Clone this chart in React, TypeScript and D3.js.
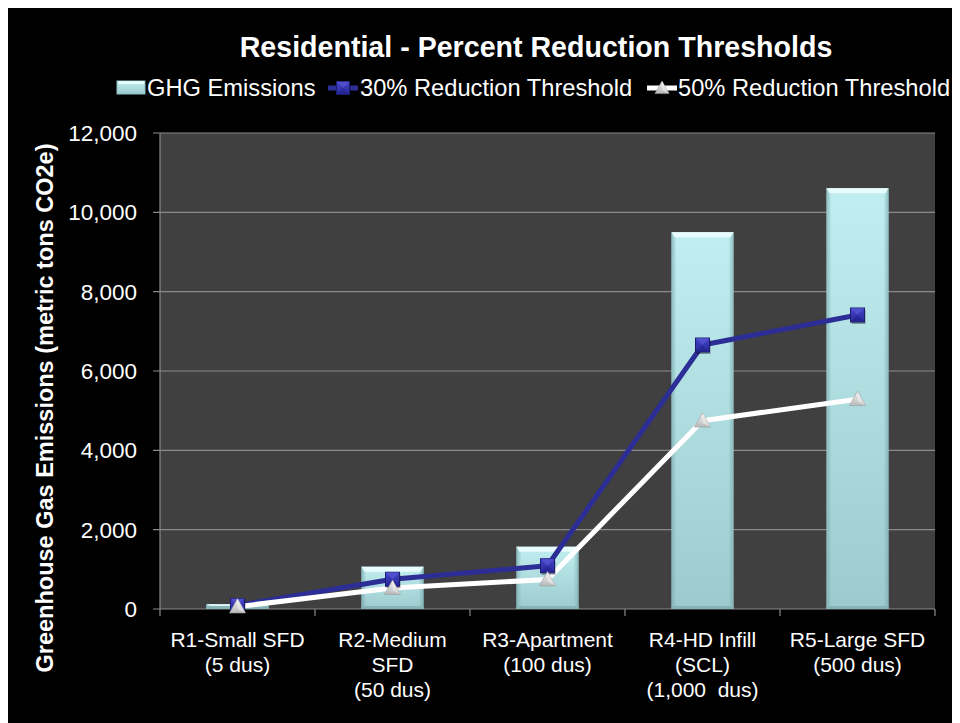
import React from 'react';
import * as d3 from 'd3';

const categories = [
  ['R1-Small SFD', '(5 dus)'],
  ['R2-Medium', 'SFD', '(50 dus)'],
  ['R3-Apartment', '(100 dus)'],
  ['R4-HD Infill', '(SCL)', '(1,000  dus)'],
  ['R5-Large SFD', '(500 dus)'],
];
const ghgEmissions = [120, 1066, 1570, 9500, 10610];
const reduction30 = [90, 750, 1090, 6655, 7412];
const reduction50 = [60, 530, 745, 4748, 5290];
const yTicks = [0, 2000, 4000, 6000, 8000, 10000, 12000];

const W = 952;
const H = 715;
const plot = { left: 152, right: 927, top: 125, bottom: 601 };
const FONT = 'Liberation Sans, Arial, sans-serif';

const App: React.FC = () => {
  const x = d3
    .scaleBand<number>()
    .domain(d3.range(categories.length))
    .range([plot.left, plot.right])
    .padding(0);
  const y = d3.scaleLinear().domain([0, 12000]).range([plot.bottom, plot.top]);
  const fmt = d3.format(',');
  const barW = x.bandwidth() * 0.4;
  const cx = (i: number) => (x(i) ?? 0) + x.bandwidth() / 2;

  const line = d3
    .line<number>()
    .x((_, i) => cx(i))
    .y((d) => y(d));

  const square = (px: number, py: number, k: string | number, s = 7) => (
    <g key={k} transform={`translate(${px},${py})`}>
      <rect x={-s + 1} y={-s + 2} width={s * 2} height={s * 2} fill="#000" opacity={0.35} />
      <rect x={-s} y={-s} width={s * 2} height={s * 2} fill="url(#sqGrad)" stroke="#1c1c70" strokeWidth={1} />
      <path d={`M${-s},${-s} L0,0 L${s},${-s} Z`} fill="#5a5ad6" opacity={0.6} />
      <path d={`M${-s},${s} L0,0 L${s},${s} Z`} fill="#20208a" opacity={0.5} />
    </g>
  );

  const triangle = (px: number, py: number, k: string | number, s = 8) => (
    <g key={k} transform={`translate(${px},${py})`}>
      <path d={`M0,${-s} L${s},${s * 0.8} L${-s},${s * 0.8} Z`} fill="url(#triGrad)" stroke="#9a9a9a" strokeWidth={0.6} />
      <path d={`M0,${-s} L0,${s * 0.3} L${s},${s * 0.8} Z`} fill="#ffffff" opacity={0.4} />
    </g>
  );

  return (
    <svg width={W} height={H} style={{ display: 'block', background: '#000' }} fontFamily={FONT}>
      <defs>
        <linearGradient id="barGrad" x1="0" y1="0" x2="0" y2="1">
          <stop offset="0%" stopColor="#c0eef1" />
          <stop offset="100%" stopColor="#9ccacd" />
        </linearGradient>
        <linearGradient id="barEdge" x1="0" y1="0" x2="1" y2="0">
          <stop offset="0%" stopColor="#7fb0b3" stopOpacity={0.8} />
          <stop offset="8%" stopColor="#7fb0b3" stopOpacity={0} />
          <stop offset="92%" stopColor="#7fb0b3" stopOpacity={0} />
          <stop offset="100%" stopColor="#7fb0b3" stopOpacity={0.8} />
        </linearGradient>
        <linearGradient id="sqGrad" x1="0" y1="0" x2="0" y2="1">
          <stop offset="0%" stopColor="#4545c8" />
          <stop offset="100%" stopColor="#28289a" />
        </linearGradient>
        <linearGradient id="triGrad" x1="0" y1="0" x2="0" y2="1">
          <stop offset="0%" stopColor="#f4f4f4" />
          <stop offset="100%" stopColor="#b8b8b8" />
        </linearGradient>
      </defs>

      <rect x={0} y={0} width={W} height={H} fill="#000" />

      <text x={528} y={49} textAnchor="middle" fill="#fff" fontSize={28.6} fontWeight="bold">
        Residential - Percent Reduction Thresholds
      </text>

      {/* legend */}
      <g fill="#fff" fontSize={23.7}>
        <rect x={109} y={73} width={28} height={13} fill="url(#barGrad)" stroke="#8fc0c3" />
        <rect x={110} y={73} width={26} height={3} fill="#e6fbfc" />
        <text x={139} y={88}>GHG Emissions</text>
        <line x1={320} x2={350} y1={80} y2={80} stroke="#2d2d96" strokeWidth={5} />
        {square(335, 80, 'l30', 6.5)}
        <text x={352} y={88}>30% Reduction Threshold</text>
        <line x1={639} x2={669} y1={80} y2={80} stroke="#fff" strokeWidth={5} />
        {triangle(654, 80, 'l50', 7)}
        <text x={670} y={88}>50% Reduction Threshold</text>
      </g>

      {/* plot area */}
      <rect x={plot.left} y={plot.top} width={plot.right - plot.left} height={plot.bottom - plot.top} fill="#404040" />
      {yTicks.map((t) => (
        <g key={t}>
          <line x1={plot.left - 7} x2={plot.right} y1={y(t)} y2={y(t)} stroke="#8a8a8a" strokeWidth={1.2} />
          <text x={129} y={y(t)} dy="0.36em" textAnchor="end" fill="#fff" fontSize={22.5}>
            {fmt(t)}
          </text>
        </g>
      ))}
      <line x1={plot.left} x2={plot.left} y1={plot.top} y2={plot.bottom} stroke="#8a8a8a" strokeWidth={1.2} />
      {d3.range(categories.length + 1).map((i) => {
        const bx = i < categories.length ? x(i) ?? 0 : plot.right;
        return <line key={i} x1={bx} x2={bx} y1={plot.bottom} y2={plot.bottom + 7} stroke="#8a8a8a" strokeWidth={1.2} />;
      })}

      {/* bars */}
      {ghgEmissions.map((v, i) => {
        const bx = cx(i) - barW / 2;
        const by = y(v);
        const bh = plot.bottom - by;
        const bev = Math.min(5, bh / 3);
        return (
          <g key={i}>
            <rect x={bx} y={by} width={barW} height={bh} fill="url(#barGrad)" />
            <rect x={bx} y={by} width={barW} height={bh} fill="url(#barEdge)" />
            <path
              d={`M${bx},${by} L${bx + barW},${by} L${bx + barW - 3},${by + bev} L${bx + 3},${by + bev} Z`}
              fill="#e8fcfd"
            />
            <rect x={bx} y={plot.bottom - 3} width={barW} height={3} fill="#86b4b7" />
          </g>
        );
      })}

      {/* lines */}
      <path d={line(reduction30) ?? ''} fill="none" stroke="#2d2d96" strokeWidth={5} strokeLinejoin="round" />
      <path d={line(reduction50) ?? ''} fill="none" stroke="#ffffff" strokeWidth={5} strokeLinejoin="round" />
      {reduction30.map((v, i) => square(cx(i), y(v), `s${i}`))}
      {reduction50.map((v, i) => triangle(cx(i), y(v), `t${i}`))}

      {/* x labels */}
      {categories.map((lines, i) => (
        <text key={i} x={cx(i)} textAnchor="middle" fill="#fff" fontSize={21} style={{ whiteSpace: 'pre' }}>
          {lines.map((l, j) => (
            <tspan key={j} x={cx(i)} y={639 + j * 25}>
              {l}
            </tspan>
          ))}
        </text>
      ))}

      <text
        transform={`translate(45,${400}) rotate(-90)`}
        textAnchor="middle"
        fill="#fff"
        fontSize={23.5}
        fontWeight="bold"
      >
        Greenhouse Gas Emissions (metric tons CO2e)
      </text>
    </svg>
  );
};

export default App;
